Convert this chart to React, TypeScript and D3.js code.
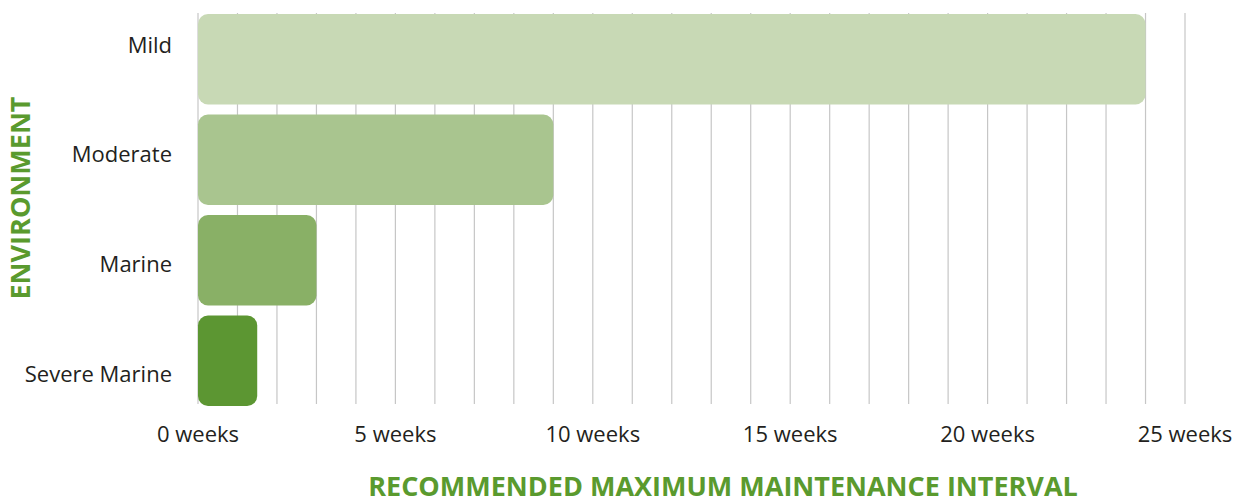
import * as d3 from "d3";
import React from "react";

const W = 1240;
const H = 497;

const categories = ["Mild", "Moderate", "Marine", "Severe Marine"];
const weeks = [24, 9, 3, 1.5];
const barColors = ["#c8d9b5", "#a9c58f", "#89b066", "#5c9632"];
const tickValues = [0, 5, 10, 15, 20, 25];
const gridValues = d3.range(0, 26);

const green = "#5a9a2e";
const textColor = "#231f20";
const font = "'Open Sans', sans-serif";

export default function App() {
    const x = d3.scaleLinear().domain([0, 25]).range([198, 1185]);
    const y = d3
        .scaleBand<string>()
        .domain(categories)
        .range([9, 411])
        .paddingInner(0.1)
        .paddingOuter(0.05);
    // labels sit on their own, slightly wider spacing
    const yLabel = d3.scalePoint<string>().domain(categories).range([45, 374]);

    return (
        <svg
            width={W}
            height={H}
            style={{ position: "absolute", left: 0, top: 0, background: "#fff" }}
            fontFamily={font}
        >
            {/* grid */}
            {gridValues.map((g) => (
                <line
                    key={g}
                    x1={x(g)}
                    x2={x(g)}
                    y1={13}
                    y2={404}
                    stroke="#c6c6c6"
                    strokeWidth={1.2}
                />
            ))}

            {/* bars */}
            {categories.map((c, i) => (
                <rect
                    key={c}
                    x={x(0)}
                    y={y(c)}
                    width={x(weeks[i]) - x(0)}
                    height={y.bandwidth()}
                    rx={10}
                    fill={barColors[i]}
                />
            ))}

            {/* category labels */}
            {categories.map((c) => (
                <text
                    key={c}
                    x={172}
                    y={yLabel(c)}
                    dy="0.35em"
                    textAnchor="end"
                    fontSize={22}
                    fill={textColor}
                >
                    {c}
                </text>
            ))}

            {/* x tick labels */}
            {tickValues.map((t) => (
                <text
                    key={t}
                    x={x(t)}
                    y={434}
                    dy="0.35em"
                    textAnchor="middle"
                    fontSize={22}
                    fill={textColor}
                >
                    {`${t} weeks`}
                </text>
            ))}

            {/* axis titles */}
            <text
                x={723}
                y={496}
                textAnchor="middle"
                fontSize={27}
                fontWeight={700}
                fill={green}
            >
                RECOMMENDED MAXIMUM MAINTENANCE INTERVAL
            </text>
            <text
                transform={`translate(30,198) rotate(-90)`}
                textAnchor="middle"
                fontSize={27}
                fontWeight={700}
                fill={green}
            >
                ENVIRONMENT
            </text>
        </svg>
    );
}
